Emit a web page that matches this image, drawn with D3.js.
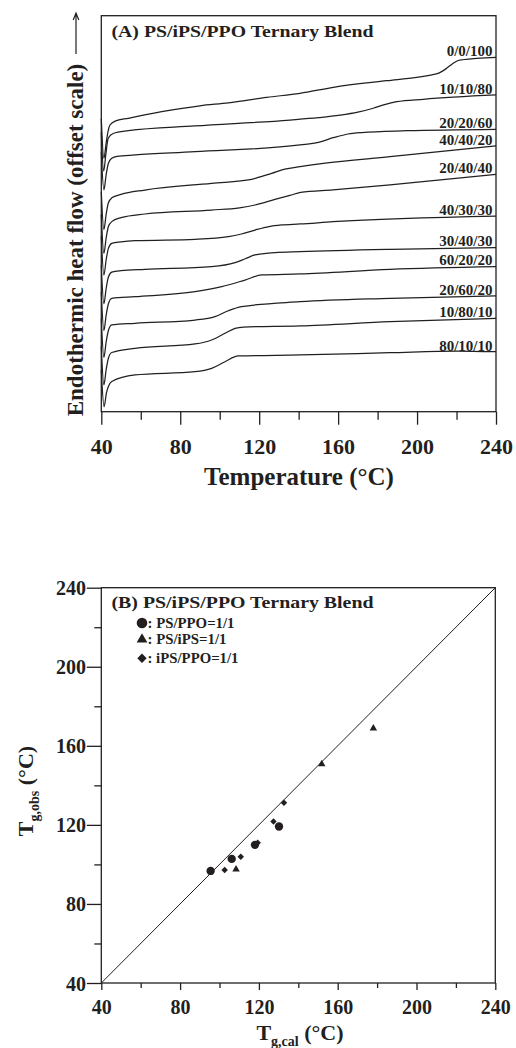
<!DOCTYPE html>
<html><head><meta charset="utf-8">
<script src="https://cdn.jsdelivr.net/npm/d3@7"></script>
<style>
body{margin:0;background:#fff}
svg text{font-family:"Liberation Serif","Times New Roman",serif;font-weight:bold;fill:#231f20}
</style></head><body>
<svg id="chart" width="516" height="1048"></svg>
<script>
// ---- DSC heating traces, PS/iPS/PPO compositions (T in °C, offset heat flow in a.u.) ----
const trace_0_0_100 = [[40,29.6],[41.3,25.6],[42.5,27.2],[43.5,28.4],[44.4,28.96],[47,29.35],[53.7,29.64],[70.6,30.3],[90,30.9],[104.4,31.2],[123.8,31.75],[140.7,32.16],[157.6,32.77],[184.6,33.43],[199.8,33.78],[207,34.0],[211,34.2],[215,34.69],[218,35.15],[220.5,35.45],[223,35.55],[240,35.8]];
const trace_10_10_80 = [[40,28.2],[41.2,24.3],[42.3,26.0],[43.5,27.62],[46,28.1],[53.7,28.38],[87.5,28.86],[135.6,29.46],[150,29.7],[161,29.95],[170,30.25],[177.8,30.65],[184,31.05],[189.7,31.31],[203.2,31.56],[240,31.99]];
const trace_20_20_60 = [[40,26.2],[41.3,22.4],[42.5,24.0],[43.6,25.1],[45.3,25.6],[48,25.8],[57.1,25.93],[87.5,26.26],[140.7,26.94],[150,27.2],[158,27.7],[165,28.05],[172,28.2],[194.8,28.38],[240,28.53]];
const trace_40_40_20 = [[40,22.2],[41.3,18.4],[42.5,20.0],[43.6,21.1],[45.3,21.6],[50,21.95],[62.1,22.39],[95.9,23.07],[116.2,23.47],[121,23.75],[126.3,24.08],[133,24.5],[140.7,24.75],[152.5,25.09],[186.3,25.76],[240,26.84]];
const trace_20_40_40 = [[40,19.9],[41.3,16.0],[42.5,17.6],[43.6,18.7],[45.3,19.2],[50,19.6],[62.1,19.97],[95.9,20.37],[110,20.6],[117.9,20.88],[128,21.45],[135.6,21.85],[141,22.15],[157.4,22.4],[186.3,22.9],[240,23.96]];
const trace_40_30_30 = [[40,17.7],[41.3,13.8],[42.5,15.4],[43.6,16.5],[45.3,17.0],[50,17.15],[57.1,17.27],[87.5,17.41],[104.4,17.68],[111,17.95],[117.9,18.35],[125,18.7],[131.4,18.86],[140.7,18.96],[157.4,19.19],[240,19.75]];
const trace_30_40_30 = [[40,14.8],[41.3,10.9],[42.5,12.5],[43.6,13.6],[45.3,14.1],[50,14.25],[62.1,14.38],[95.9,14.65],[107.8,15.05],[113,15.45],[117.9,15.83],[128,16.06],[140.7,16.16],[186.3,16.4],[240,16.57]];
const trace_60_20_20 = [[40,12.1],[41.3,8.2],[42.5,9.8],[43.6,10.9],[45.3,11.45],[57.1,11.62],[87.5,12.12],[101,12.63],[112.8,13.3],[121.3,13.81],[140.7,13.91],[186.3,14.38],[240,14.65]];
const trace_20_60_20 = [[40,9.4],[41.3,5.5],[42.5,7.1],[43.6,8.2],[45.3,8.76],[57.1,8.93],[87.5,9.26],[97.6,9.6],[104.4,10.2],[111.1,10.61],[140.7,11.11],[186.3,11.45],[240,11.69]];
const trace_10_80_10 = [[40,6.6],[41.3,2.7],[42.5,4.3],[43.6,5.4],[45.3,5.98],[57.1,6.4],[87.5,6.84],[95.9,7.24],[102.7,7.92],[107.8,8.42],[112,8.55],[140.7,8.66],[186.3,9.09],[240,9.43]];
const trace_80_10_10 = [[40,4.2],[41.4,0.5],[42.6,1.9],[43.7,2.6],[45.3,3.05],[57.1,3.71],[87.5,4.04],[95.9,4.38],[102.7,5.05],[109.4,5.63],[140.7,5.73],[186.3,5.96],[220.1,6.13],[240,6.06]];

const blendLabels = ["0/0/100","10/10/80","20/20/60","40/40/20","20/40/40","40/30/30","30/40/30","60/20/20","20/60/20","10/80/10","80/10/10"];
const blendTraces = [trace_0_0_100,trace_10_10_80,trace_20_20_60,trace_40_40_20,trace_20_40_40,trace_40_30_30,trace_30_40_30,trace_60_20_20,trace_20_60_20,trace_10_80_10,trace_80_10_10];

// ---- Tg comparison: calculated vs observed (°C) ----
const tgCal_PS_PPO = [95.5, 106.2, 118.0, 130.2];
const tgObs_PS_PPO = [96.7, 102.8, 109.9, 119.2];
const tgCal_PS_iPS = [108.4, 151.9, 178.1];
const tgObs_PS_iPS = [97.5, 150.8, 168.9];
const tgCal_iPS_PPO = [102.6, 110.8, 119.4, 127.4, 132.7];
const tgObs_iPS_PPO = [97.2, 103.9, 111.0, 121.7, 131.2];

const majorTicks = [40, 80, 120, 160, 200, 240];
const minorTicks = [60, 100, 140, 180, 220];

const INK = "#231f20";
const svg = d3.select("#chart");

// ================= Panel A: DSC traces =================
const A = {l:101.3, r:496, t:15.7, b:411.7};
const xA = d3.scaleLinear().domain([40, 240]).range([A.l, A.r]);
const yA = d3.scaleLinear().domain([0, 40]).range([A.b, A.t]);

const gA = svg.append("g");
const traceLine = d3.line().x(d => xA(d[0])).y(d => yA(d[1])).curve(d3.curveMonotoneX);

gA.selectAll("path.trace").data(blendTraces).join("path")
  .attr("class", "trace")
  .attr("d", traceLine)
  .attr("fill", "none").attr("stroke", INK).attr("stroke-width", 1.25);

gA.selectAll("text.comp").data(blendTraces).join("text")
  .attr("class", "comp")
  .attr("x", A.r - 3.5)
  .attr("y", d => yA(d[d.length - 1][1]) - 1.2)
  .attr("text-anchor", "end")
  .attr("font-size", 15)
  .text((d, i) => blendLabels[i]);

// frame
gA.append("rect").attr("x", A.l).attr("y", A.t).attr("width", A.r - A.l).attr("height", A.b - A.t)
  .attr("fill", "none").attr("stroke", INK).attr("stroke-width", 1.3);

// bottom axis
const axA = gA.append("g").attr("transform", `translate(0,${A.b})`)
  .call(d3.axisBottom(xA).tickValues(majorTicks).tickSize(13).tickFormat(d3.format("d")));
axA.select(".domain").remove();
axA.selectAll("line").attr("stroke", INK).attr("stroke-width", 1.3);
axA.selectAll("text").attr("y", 42).attr("dy", 0).attr("font-size", 22)
  .style("font-family", '"Liberation Serif",serif').style("font-weight", "bold").attr("fill", INK);
const axAm = gA.append("g").attr("transform", `translate(0,${A.b})`)
  .call(d3.axisBottom(xA).tickValues(minorTicks).tickSize(8).tickFormat(""));
axAm.select(".domain").remove();
axAm.selectAll("line").attr("stroke", INK).attr("stroke-width", 1.3);

gA.append("text").attr("x", 299).attr("y", 485).attr("text-anchor", "middle")
  .attr("font-size", 25).text("Temperature (°C)");

gA.append("text").attr("transform", "translate(83,240) rotate(-90)").attr("text-anchor", "middle")
  .attr("font-size", 23).text("Endothermic heat flow (offset scale)");
// arrow pointing up (endothermic direction)
gA.append("path").attr("d", "M76,54 L76,14 M73.2,20 L76,13 L78.8,20")
  .attr("fill", "none").attr("stroke", INK).attr("stroke-width", 1.2);

gA.append("text").attr("x", 111.5).attr("y", 36.5).attr("font-size", 17.5)
  .attr("textLength", 262).attr("lengthAdjust", "spacingAndGlyphs")
  .text("(A) PS/iPS/PPO Ternary Blend");

// ================= Panel B: Tg,obs vs Tg,cal =================
const B = {l:101.3, r:495.3, t:587.7, b:983};
const xB = d3.scaleLinear().domain([40, 240]).range([B.l, B.r]);
const yB = d3.scaleLinear().domain([40, 240]).range([B.b, B.t]);
const gB = svg.append("g");

gB.append("rect").attr("x", B.l).attr("y", B.t).attr("width", B.r - B.l).attr("height", B.b - B.t)
  .attr("fill", "none").attr("stroke", INK).attr("stroke-width", 1.3);

// identity line Tg,obs = Tg,cal
gB.append("line").attr("x1", xB(40)).attr("y1", yB(40)).attr("x2", xB(240)).attr("y2", yB(240))
  .attr("stroke", INK).attr("stroke-width", 1);

function styleAxis(g) {
  g.select(".domain").remove();
  g.selectAll("line").attr("stroke", INK).attr("stroke-width", 1.3);
  g.selectAll("text").attr("font-size", 20).attr("fill", INK)
    .style("font-family", '"Liberation Serif",serif').style("font-weight", "bold");
}
const bx = gB.append("g").attr("transform", `translate(0,${B.b})`)
  .call(d3.axisBottom(xB).tickValues(majorTicks).tickSize(7).tickFormat(d3.format("d")));
styleAxis(bx);
bx.selectAll("text").attr("y", 30.5).attr("dy", 0);
const bxm = gB.append("g").attr("transform", `translate(0,${B.b})`)
  .call(d3.axisBottom(xB).tickValues(minorTicks).tickSize(5).tickFormat(""));
styleAxis(bxm);

const by = gB.append("g").attr("transform", `translate(${B.l},0)`)
  .call(d3.axisLeft(yB).tickValues(majorTicks).tickSize(14.5).tickFormat(d3.format("d")));
styleAxis(by);
by.selectAll("text").attr("x", -15.3).attr("dy", "0.35em");
const bym = gB.append("g").attr("transform", `translate(${B.l},0)`)
  .call(d3.axisLeft(yB).tickValues(minorTicks).tickSize(7).tickFormat(""));
styleAxis(bym);

const series = [
  {cal: tgCal_PS_PPO, obs: tgObs_PS_PPO, type: "circle", label: ": PS/PPO=1/1", w: 87},
  {cal: tgCal_PS_iPS, obs: tgObs_PS_iPS, type: "triangle", label: ": PS/iPS=1/1", w: 79},
  {cal: tgCal_iPS_PPO, obs: tgObs_iPS_PPO, type: "diamond", label: ": iPS/PPO=1/1", w: 91}
];
function symbolPath(type, scale) {
  if (type === "circle") return d3.symbol().type(d3.symbolCircle).size(55 * scale)();
  if (type === "triangle") return d3.symbol().type(d3.symbolTriangle).size(24 * scale)();
  return d3.symbol().type(d3.symbolSquare).size(21 * scale)();
}
series.forEach(s => {
  gB.selectAll(null).data(s.cal.map((c, i) => [c, s.obs[i]])).join("path")
    .attr("d", symbolPath(s.type, 1))
    .attr("transform", d => `translate(${xB(d[0])},${yB(d[1])})${s.type === "diamond" ? " rotate(45)" : ""}`)
    .attr("fill", INK);
});

// legend
const legY = [623, 639.5, 658.3];
series.forEach((s, i) => {
  gB.append("path").attr("d", symbolPath(s.type, s.type === "circle" ? 1.6 : 2.1))
    .attr("transform", `translate(142,${legY[i]})${s.type === "diamond" ? " rotate(45)" : ""}`)
    .attr("fill", INK);
  gB.append("text").attr("x", 147.5).attr("y", legY[i] + 4.8).attr("font-size", 14)
    .attr("textLength", s.w).attr("lengthAdjust", "spacingAndGlyphs").text(s.label);
});

gB.append("text").attr("x", 111.5).attr("y", 608).attr("font-size", 17.5)
  .attr("textLength", 262).attr("lengthAdjust", "spacingAndGlyphs")
  .text("(B) PS/iPS/PPO Ternary Blend");

// axis titles with subscripts
const xt = gB.append("text").attr("x", 300).attr("y", 1040).attr("text-anchor", "middle").attr("font-size", 22);
xt.append("tspan").text("T");
xt.append("tspan").attr("font-size", 14).attr("dy", 6).text("g,cal");
xt.append("tspan").attr("dy", -6).text(" (°C)");

const yt = gB.append("text").attr("transform", "translate(33,791) rotate(-90)").attr("text-anchor", "middle").attr("font-size", 22);
yt.append("tspan").text("T");
yt.append("tspan").attr("font-size", 14).attr("dy", 6).text("g,obs");
yt.append("tspan").attr("dy", -6).text(" (°C)");
</script>
</body></html>
